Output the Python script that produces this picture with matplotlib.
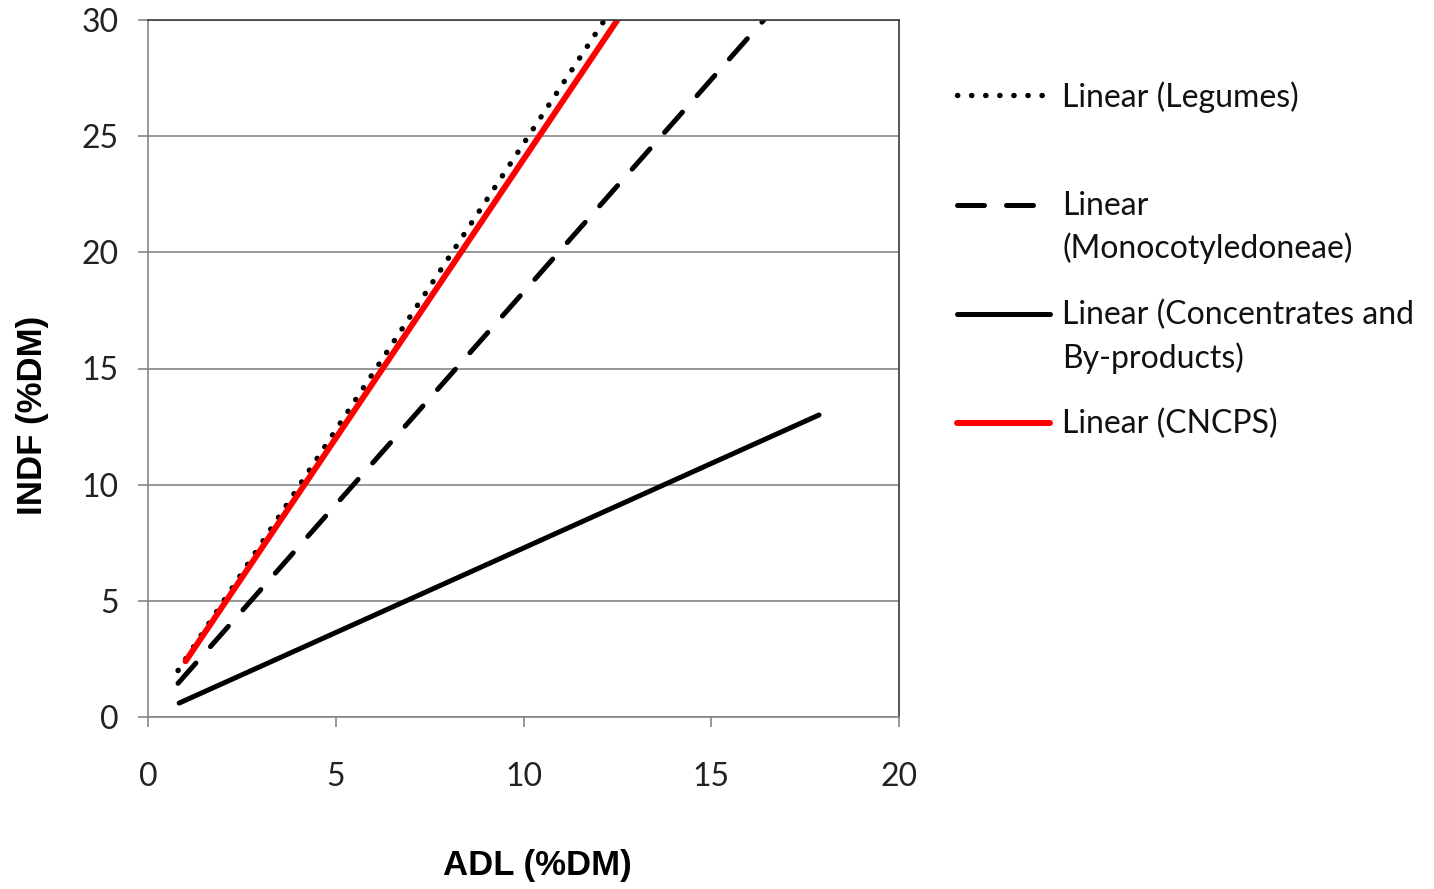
import matplotlib.pyplot as plt
from matplotlib.lines import Line2D

# trend lines (ADL %DM -> INDF %DM)
adl_legumes = [0.8, 12.2]
indf_legumes = [2.0, 30.1]
adl_mono = [0.8, 16.4]
indf_mono = [1.45, 30.0]
adl_conc = [0.83, 17.87]
indf_conc = [0.6, 13.0]
adl_cncps = [1.0, 12.5]
indf_cncps = [2.4, 30.0]

labels = ["Linear (Legumes)", "Linear\n(Monocotyledoneae)",
          "Linear (Concentrates and\nBy-products)", "Linear (CNCPS)"]
x_ticks = [0, 5, 10, 15, 20]
y_ticks = [0, 5, 10, 15, 20, 25, 30]

W, H = 1434, 889
fig = plt.figure(figsize=(W / 100, H / 100), dpi=100)
ax = fig.add_axes([148 / W, 1 - 717 / H, (899 - 148) / W, (717 - 20) / H])

grey = "#868686"
styles = [
    dict(color="black", lw=3.9, dashes=(0.05, 2.55), dash_capstyle="round"),
    dict(color="black", lw=3.6, dashes=(5.4, 4.4), dash_capstyle="round"),
    dict(color="black", lw=3.6, solid_capstyle="round"),
    dict(color="#ff0000", lw=4.3, solid_capstyle="round"),
]
series = [(adl_legumes, indf_legumes), (adl_mono, indf_mono),
          (adl_conc, indf_conc), (adl_cncps, indf_cncps)]
for (xs, ys), st in zip(series, styles):
    ax.plot(xs, ys, **st)

ax.set_xlim(0, 20)
ax.set_ylim(0, 30)
ax.set_xticks(x_ticks)
ax.set_yticks(y_ticks)
ax.grid(axis="y", color=grey, lw=1.2)
ax.set_axisbelow(True)
for side in ["left", "bottom"]:
    ax.spines[side].set_color(grey)
    ax.spines[side].set_linewidth(1.2)
for side in ["top", "right"]:
    ax.spines[side].set_color("#3a3a3a")
    ax.spines[side].set_linewidth(1.2)
ax.tick_params(axis="both", direction="out", length=7.2, width=1.2, color=grey,
               labelsize=23, labelcolor="#222222")
ax.tick_params(axis="x", pad=25)
ax.tick_params(axis="y", pad=14)
for lab in ax.get_xticklabels() + ax.get_yticklabels():
    lab.set_family("Lato")

ax.set_ylabel("INDF (%DM)", fontsize=25, fontweight="bold",
              family=["Liberation Sans Narrow", "Liberation Sans"])
ax.yaxis.set_label_coords((33 - 148) / 751, (717 - 415) / 697)
ax.yaxis.label.set_va("center")
ax.set_xlabel("ADL (%DM)", fontsize=25, fontweight="bold",
              family=["Liberation Sans Narrow", "Liberation Sans"])
ax.xaxis.set_label_coords((537 - 148) / 751, (717 - 866) / 697)
ax.xaxis.label.set_va("center")

# legend drawn by hand, to keep the Excel-like spacing
legend_y = [95, 205, 314, 423]
for y, st, lab in zip(legend_y, styles, labels):
    fig.add_artist(Line2D([957 / W, 1050 / W], [1 - y / H, 1 - y / H],
                          transform=fig.transFigure, **st))
    fig.text(1062 / W, 1 - (y - 14) / H, lab, fontsize=23, family="Lato",
             va="top", ha="left", linespacing=1.45, color="#111111")

fig.savefig("out.png", dpi=100)
